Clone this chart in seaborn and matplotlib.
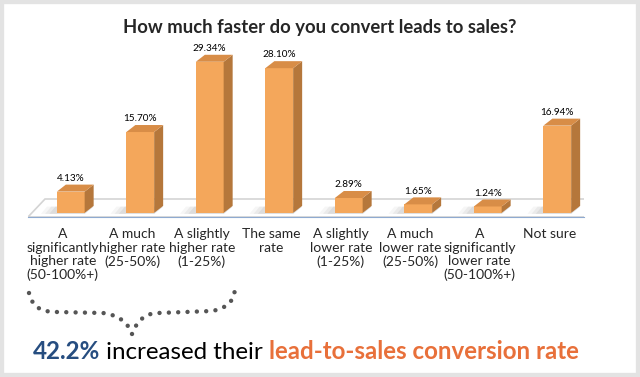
import numpy as np
import matplotlib
matplotlib.use("Agg")
import matplotlib.pyplot as plt
import seaborn as sns
from matplotlib.patches import Polygon, Rectangle, PathPatch
from matplotlib.path import Path

# data
categories = ["A\nsignificantly\nhigher rate\n(50-100%+)", "A much\nhigher rate\n(25-50%)",
              "A slightly\nhigher rate\n(1-25%)", "The same\nrate", "A slightly\nlower rate\n(1-25%)",
              "A much\nlower rate\n(25-50%)", "A\nsignificantly\nlower rate\n(50-100%+)", "Not sure"]
values = [4.13, 15.70, 29.34, 28.10, 2.89, 1.65, 1.24, 16.94]
title = "How much faster do you convert leads to sales?"
caption_parts = ["42.2%", " increased their ", "lead-to-sales conversion rate"]

front = "#F4A75B"
side = "#B5773B"
top = "#D88D47"

sns.set_style("white")
plt.rcParams['font.family'] = ['Lato', 'DejaVu Sans']

W, H = 640, 377
fig = plt.figure(figsize=(6.4, 3.77), dpi=100)
fig.patch.set_facecolor("white")

px_x = 69.5   # pixels per category
px_y = 5.15   # pixels per percent
y0 = -0.8
ymax = 32
ax = fig.add_axes([28 / W, (H - 217) / H, 556 / W, (ymax - y0) * px_y / H])

sns.barplot(x=list(range(len(values))), y=values, color=front, width=0.4,
            saturation=1, ax=ax, zorder=3, linewidth=0)

dx = 9 / px_x
dy = 7 / px_y
shift = 8 / px_x

# floor
fdx_l, fdx_r, fdy = 17 / px_x, 26 / px_x, 18 / px_y
floor = Polygon([(-0.5, y0), (7.5, y0), (7.5 + fdx_r, y0 + fdy), (-0.5 + fdx_l, y0 + fdy)],
                closed=True, facecolor="white", edgecolor="#d4d4d4", lw=1.2, zorder=1)
ax.add_patch(floor)

bars = list(ax.patches[:len(values)])
for bar, v in zip(bars, values):
    bar.set_x(bar.get_x() + shift)
    x0 = bar.get_x()
    x1 = x0 + bar.get_width()
    h = bar.get_height()
    # soft shadow
    for k, a in enumerate([0.12, 0.09, 0.07]):
        e = 0.06 * (k + 1)
        ax.add_patch(Polygon([(x0 - e - 0.05, -0.2), (x1, -0.2), (x1 + dx, dy * 0.9),
                              (x0 - e + dx * 0.3, dy * 0.9)],
                             closed=True, facecolor="gray", alpha=a, lw=0, zorder=2))
    ax.add_patch(Polygon([(x1, 0), (x1 + dx, dy), (x1 + dx, h + dy), (x1, h)],
                         closed=True, facecolor=side, lw=0, zorder=3))
    ax.add_patch(Polygon([(x0, h), (x1, h), (x1 + dx, h + dy), (x0 + dx, h + dy)],
                         closed=True, facecolor=top, lw=0, zorder=3))
    ax.text(x0 + bar.get_width() / 2, h + 1.7, f"{v:.2f}%", ha="center", va="bottom",
            fontsize=7.2, color="black", zorder=4)

ax.set_xlim(-0.5, 7.5)
ax.set_ylim(y0, ymax)
ax.set_yticks([])
ax.set_xticks(range(len(categories)))
ax.set_xticklabels(categories, fontsize=10, linespacing=1.15)
ax.tick_params(axis="x", which="major", length=0, pad=8)
ax.set_xticks(np.arange(-0.5, 8, 1), minor=True)
ax.tick_params(axis="x", which="minor", length=4, width=1, color="#5b8fd0", direction="out")
for s in ["top", "left", "right"]:
    ax.spines[s].set_visible(False)
ax.spines["bottom"].set_color("#8faad0")
ax.spines["bottom"].set_linewidth(0.8)
ax.set_xlabel("")
ax.patch.set_alpha(0)

fig.text(0.5, 1 - 27 / H, title, ha="center", va="center", fontsize=13.3, weight="bold")

# dotted brace
def fp(x, y):
    return (x / W, 1 - y / H)

verts = [fp(29, 293), fp(33, 310), fp(45, 312), fp(57, 312), fp(103, 313),
         fp(118, 315), fp(128, 322), fp(132, 334),
         fp(138, 318), fp(148, 313), fp(158, 313), fp(212, 311),
         fp(228, 308), fp(235, 300), fp(235, 287)]
codes = [Path.MOVETO, Path.CURVE4, Path.CURVE4, Path.CURVE4, Path.LINETO,
         Path.CURVE4, Path.CURVE4, Path.CURVE4,
         Path.CURVE4, Path.CURVE4, Path.CURVE4, Path.LINETO,
         Path.CURVE4, Path.CURVE4, Path.CURVE4]
brace = PathPatch(Path(verts, codes), transform=fig.transFigure, facecolor="none",
                  edgecolor="#555555", lw=3.2, linestyle=(0, (0.001, 2.1)), capstyle="round")
fig.add_artist(brace)

# caption with mixed colours
renderer = fig.canvas.get_renderer()
x = 33 / W
styles = [dict(color="#264D80", weight="bold"), dict(color="black"),
          dict(color="#E8703A", weight="bold")]
for part, st in zip(caption_parts, styles):
    t = fig.text(x, 1 - 359 / H, part, ha="left", va="baseline", fontsize=17.4, **st)
    bb = t.get_window_extent(renderer=renderer)
    x += bb.width / W

# grey frame
fig.add_artist(Rectangle((0, 0), 1, 1, transform=fig.transFigure, fill=False,
                         edgecolor="#e3e3e3", lw=6))

fig.savefig("out.png", dpi=100)
